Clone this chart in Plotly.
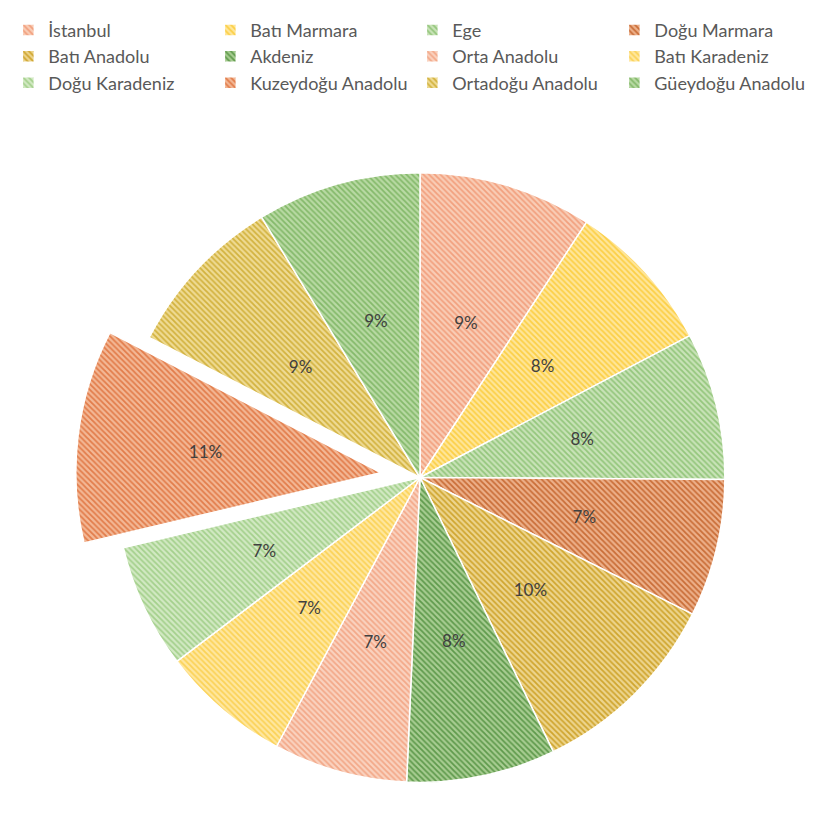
import plotly.graph_objects as go

regions = ["İstanbul", "Batı Marmara", "Ege", "Doğu Marmara", "Batı Anadolu", "Akdeniz",
           "Orta Anadolu", "Batı Karadeniz", "Doğu Karadeniz", "Kuzeydoğu Anadolu",
           "Ortadoğu Anadolu", "Güeydoğu Anadolu"]
shares = [9.2, 8.1, 7.8, 7.3, 10.4, 7.9, 7.1, 6.9, 6.6, 11.3, 8.7, 8.7]
pulls = [0, 0, 0, 0, 0, 0, 0, 0, 0, 0.13, 0, 0]
label_pulls = [0, 0, 0, 0, 0, 0, 0, 0, 0, 0.3, 0, 0]

bg_colors = ["#F9CDB6", "#FFE69A", "#C9E3B8", "#EDB08A", "#EDD58E", "#A8CD92",
             "#FAD2BF", "#FFE7A0", "#D2E9C3", "#F3B896", "#EFDB94", "#B9DAA4"]
fg_colors = ["#F2A07E", "#FCCF45", "#94C67C", "#C96D37", "#CFA52E", "#5F9A4C",
             "#F3A888", "#FBD256", "#A4D08C", "#E27C4A", "#D2B23E", "#84B96A"]

# main pie (slices + legend)
fig = go.Figure(go.Pie(
    labels=regions,
    values=shares,
    pull=pulls,
    sort=False,
    direction="clockwise",
    rotation=0,
    textinfo="none",
    domain=dict(x=[0, 1], y=[0, 1]),
    marker=dict(
        colors=bg_colors,
        line=dict(color="white", width=1.5),
        pattern=dict(shape="\\", fgcolor=fg_colors, bgcolor=bg_colors, size=4, solidity=0.45),
    ),
    hoverinfo="label+percent",
))

# concentric, smaller transparent pie carrying the percentage labels nearer the centre
fig.add_trace(go.Pie(
    labels=regions,
    values=shares,
    pull=label_pulls,
    sort=False,
    direction="clockwise",
    rotation=0,
    showlegend=False,
    texttemplate="%{percent:.0%}",
    textposition="inside",
    insidetextorientation="horizontal",
    textfont=dict(family="Lato", size=17, color="#404040"),
    domain=dict(x=[0.1646, 0.8354], y=[0.1038, 0.8962]),
    marker=dict(colors=["rgba(0,0,0,0)"] * len(regions), line=dict(width=0)),
    hoverinfo="skip",
))

fig.update_layout(
    width=814, height=814,
    paper_bgcolor="white",
    plot_bgcolor="white",
    margin=dict(l=0, r=0, t=125, b=0),
    showlegend=True,
    legend=dict(
        orientation="h",
        x=-0.012, xanchor="left",
        y=1.176, yanchor="top",
        entrywidth=157, entrywidthmode="pixels",
        font=dict(family="Lato", size=18, color="#595959"),
        traceorder="normal",
    ),
)

fig.write_html("out.html")
